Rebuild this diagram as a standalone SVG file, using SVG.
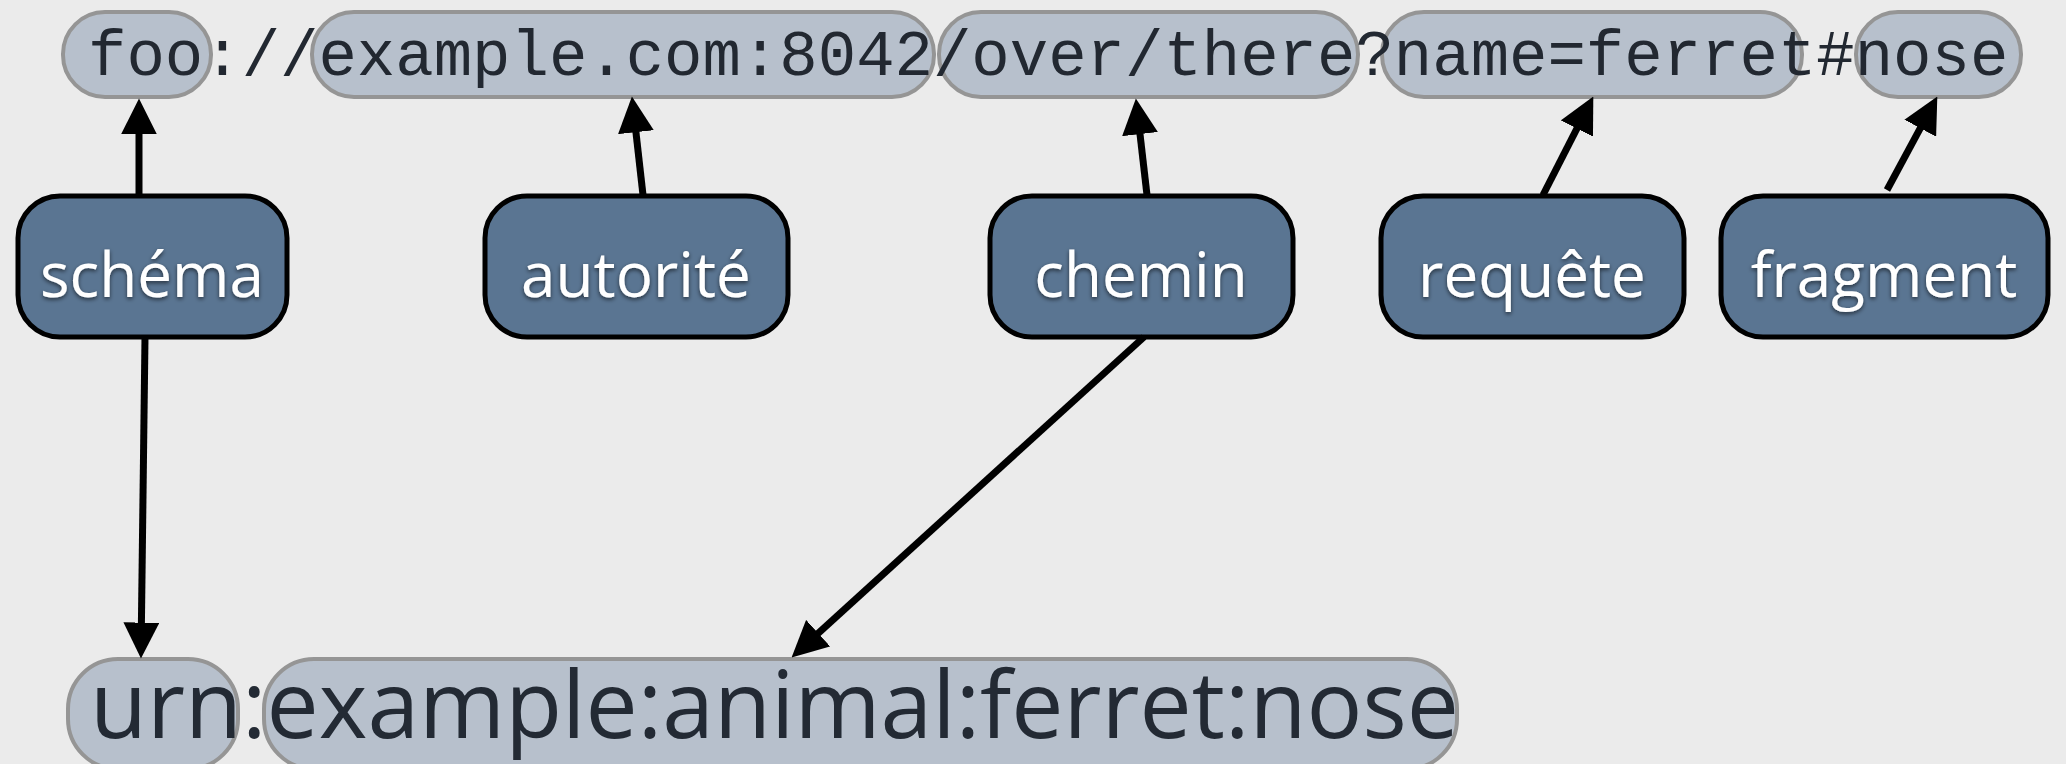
<svg xmlns="http://www.w3.org/2000/svg" width="2066" height="764" viewBox="0 0 2066 764">
<defs>
<style>
.pill{fill:#b7c0cc;stroke:#959595;stroke-width:4}
.box{fill:#5a7592;stroke:#000;stroke-width:5}
.lbl{font-family:"Open Sans","Noto Sans",sans-serif;font-size:62px;fill:#fff;text-anchor:middle}
.mono{font-family:"Liberation Mono","Courier New",monospace;font-size:64px;fill:#222831}
.urn{font-family:"Open Sans","Noto Sans",sans-serif;font-size:93px;fill:#232a34}
.conn{stroke:#000;stroke-width:7;fill:none;marker-end:url(#ah)}
</style>
<marker id="ah" markerUnits="userSpaceOnUse" markerWidth="36" markerHeight="36" refX="24" refY="17" orient="auto" viewBox="0 0 34 34">
<path d="M0,0 L34,17 L0,34 Z" fill="#000"/>
</marker>
<filter id="sh" x="-10%" y="-20%" width="120%" height="150%">
<feDropShadow dx="0" dy="2" stdDeviation="2" flood-color="#000" flood-opacity="0.6"/>
</filter>
</defs>
<rect width="2066" height="764" fill="#ebebeb"/>
<g id="top-uri">
<rect class="pill" x="63" y="12" width="148" height="85" rx="42"/>
<rect class="pill" x="312" y="12" width="622" height="85" rx="42"/>
<rect class="pill" x="939" y="12" width="419" height="85" rx="42"/>
<rect class="pill" x="1382" y="12" width="420" height="85" rx="42"/>
<rect class="pill" x="1856" y="12" width="165" height="85" rx="42"/>
<text class="mono" x="88" y="75">foo://example.com:8042/over/there?name=ferret#nose</text>
</g>
<g id="bottom-urn">
<rect class="pill" x="68" y="659" width="170" height="110" rx="50"/>
<rect class="pill" x="264" y="659" width="1193" height="110" rx="50"/>
<text class="urn" x="90" y="738">urn:example:animal:ferret:nose</text>
</g>
<g id="schema">
<rect class="box" x="18" y="196" width="269" height="141" rx="42"/>
<text class="lbl" x="152" y="297" filter="url(#sh)">schéma</text>
</g>
<g id="autorite">
<rect class="box" x="485" y="196" width="303" height="141" rx="42"/>
<text class="lbl" x="636" y="297" filter="url(#sh)">autorité</text>
</g>
<g id="chemin">
<rect class="box" x="990" y="196" width="303" height="141" rx="42"/>
<text class="lbl" x="1141" y="297" filter="url(#sh)">chemin</text>
</g>
<g id="requete">
<rect class="box" x="1381" y="196" width="303" height="141" rx="42"/>
<text class="lbl" x="1532" y="297" filter="url(#sh)">requête</text>
</g>
<g id="fragment">
<rect class="box" x="1721" y="196" width="327" height="141" rx="42"/>
<text class="lbl" x="1884" y="297" filter="url(#sh)">fragment</text>
</g>
<g id="connectors">
<path class="conn" d="M139,196 L139,109"/>
<path class="conn" d="M643,195 L633.1,106.9"/>
<path class="conn" d="M1147,195 L1137.1,108.9"/>
<path class="conn" d="M1543,195 L1588.5,105.9"/>
<path class="conn" d="M1887,190 L1932.3,105.8"/>
<path class="conn" d="M145,337 L141.1,648"/>
<path class="conn" d="M1144,337 L799.4,650.3"/>
</g>
</svg>
